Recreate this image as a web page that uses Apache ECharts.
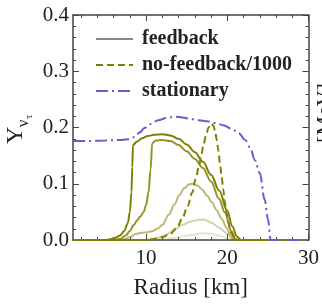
<!DOCTYPE html>
<html>
<head>
<meta charset="utf-8">
<script src="https://cdn.jsdelivr.net/npm/echarts@6/dist/echarts.min.js"></script>
<style>
html, body { margin: 0; padding: 0; background: #fff; }
#container { width: 322px; height: 304px; }
</style>
</head>
<body>
<div id="container"></div>
<script>
// tick values
const xMajorTicks = [10, 20, 30];
const xMinorTicks = [2, 4, 6, 8, 12, 14, 16, 18, 22, 24, 26, 28];

// feedback runs, darkest to lightest
const fb1R = [1, 5, 5.5, 6.2, 6.8, 7.3, 7.75, 8.0, 8.2, 8.3, 8.38, 8.9, 9.5, 10.2, 11, 12, 13, 14, 15, 16, 17, 18, 19, 20, 20.6, 21.2, 21.7, 29.8];
const fb1Y = [0, 0, 0.001, 0.004, 0.008, 0.016, 0.03, 0.05, 0.085, 0.13, 0.169, 0.175, 0.181, 0.185, 0.187, 0.188, 0.186, 0.18, 0.17, 0.156, 0.139, 0.116, 0.088, 0.052, 0.025, 0.006, 0, 0];

const fb2R = [1, 6, 6.8, 7.5, 8.0, 8.5, 8.9, 9.3, 9.7, 10.0, 10.3, 10.55, 10.75, 11.2, 12, 13, 14, 15, 16, 17, 18, 19, 19.7, 20.5, 21.0, 21.3, 29.8];
const fb2Y = [0, 0, 0.002, 0.008, 0.016, 0.027, 0.035, 0.042, 0.05, 0.062, 0.085, 0.125, 0.172, 0.177, 0.178, 0.176, 0.169, 0.158, 0.144, 0.128, 0.104, 0.073, 0.049, 0.016, 0.002, 0, 0];

const fb3R = [1, 7, 7.95, 8.8, 9.5, 10.2, 10.8, 11.5, 12.0, 12.8, 13.5, 14.1, 14.7, 15.3, 15.7, 16.3, 16.9, 17.5, 18.1, 18.7, 19.3, 19.9, 20.4, 20.8, 21.1, 29.8];
const fb3Y = [0, 0, 0.005, 0.011, 0.013, 0.014, 0.016, 0.021, 0.027, 0.045, 0.063, 0.08, 0.092, 0.099, 0.1, 0.097, 0.09, 0.079, 0.067, 0.053, 0.038, 0.022, 0.009, 0.002, 0, 0];

const fb4R = [1, 9.5, 10.5, 11.5, 12.5, 13.5, 14.5, 15.5, 16.5, 17.2, 18, 19, 20, 20.6, 21, 29.8];
const fb4Y = [0, 0, 0.001, 0.004, 0.01, 0.018, 0.027, 0.033, 0.036, 0.036, 0.031, 0.022, 0.011, 0.003, 0, 0];

const fb5R = [1, 11, 12, 13, 14, 15, 16, 17, 18, 19, 20, 20.7, 29.8];
const fb5Y = [0, 0, 0.001, 0.003, 0.005, 0.008, 0.01, 0.012, 0.011, 0.008, 0.003, 0, 0];

// no-feedback divided by 1000
const nofbR = [1, 10, 11, 12, 13, 13.8, 14.45, 15.1, 15.67, 16.1, 16.5, 16.8, 17.1, 17.4, 17.7, 18.0, 18.3, 18.5, 18.7, 18.9, 19.1, 19.3, 19.5, 19.7, 19.9, 20.1, 20.5, 20.96, 21.3, 29.8];
const nofbY = [0, 0, 0.002, 0.005, 0.011, 0.022, 0.038, 0.06, 0.084, 0.108, 0.13, 0.152, 0.171, 0.188, 0.2, 0.207, 0.203, 0.194, 0.178, 0.159, 0.136, 0.113, 0.09, 0.067, 0.048, 0.032, 0.012, 0.003, 0, 0];

// stationary
const statR = [1, 3, 5, 7, 7.9, 8.6, 9.2, 9.8, 10.5, 11.5, 12.5, 13.5, 14.5, 15.5, 16.5, 17.5, 18.5, 19.5, 20.5, 21.4, 22.2, 22.8, 23.4, 24.0, 24.6, 25.0, 25.35, 26, 29.8];
const statY = [0.176, 0.176, 0.177, 0.178, 0.179, 0.183, 0.191, 0.199, 0.206, 0.213, 0.217, 0.219, 0.218, 0.215, 0.213, 0.211, 0.208, 0.204, 0.198, 0.19, 0.178, 0.165, 0.142, 0.119, 0.072, 0.038, 0, 0, 0];

const zip = (r, y) => r.map((v, i) => [v, y[i]]);

const FONT = '"Liberation Serif", "DejaVu Serif", serif';
const axisColor = '#444';
const olive = (a) => 'rgba(128,128,0,' + a + ')';

const chart = echarts.init(document.getElementById('container'));

const solid = (name, r, y, color, z) => ({
    name,
    type: 'line',
    data: zip(r, y),
    symbol: 'none',
    smooth: 0.35,
    smoothMonotone: 'x',
    z,
    lineStyle: { color, width: 2 },
    itemStyle: { color },
});

const xBase = {
    type: 'value',
    min: 1,
    max: 30,
    splitLine: { show: false },
    axisLabel: { show: false },
};

chart.setOption({
    animation: false,
    grid: { left: 73, right: 11, top: 15, bottom: 59 },
    legend: {
        orient: 'vertical',
        left: 90,
        top: 24,
        itemWidth: 37,
        itemHeight: 14,
        itemGap: 6,
        selectedMode: false,
        itemStyle: { opacity: 0 },
        textStyle: {
            fontFamily: FONT,
            fontWeight: 'bold',
            fontSize: 20,
            color: '#222',
            lineHeight: 16,
            padding: [0, 0, 0, 4],
        },
        data: [
            { name: 'feedback', lineStyle: { color: '#888' } },
            { name: 'no-feedback/1000' },
            { name: 'stationary' },
        ],
    },
    xAxis: [
        Object.assign({}, xBase, {
            position: 'bottom',
            axisLine: { show: true, lineStyle: { color: axisColor, width: 1.5 } },
            axisTick: { show: true, inside: true, length: 6, customValues: xMajorTicks, lineStyle: { color: axisColor } },
            axisLabel: {
                show: true,
                customValues: xMajorTicks,
                margin: 8,
                fontFamily: FONT,
                fontSize: 21,
                color: '#222',
            },
            name: 'Radius [km]',
            nameLocation: 'middle',
            nameGap: 36,
            nameTextStyle: { fontFamily: FONT, fontSize: 23, color: '#222' },
        }),
        Object.assign({}, xBase, {
            position: 'bottom',
            axisLine: { show: false },
            axisTick: { show: true, inside: true, length: 3, customValues: xMinorTicks, lineStyle: { color: axisColor } },
        }),
        Object.assign({}, xBase, {
            position: 'top',
            axisLine: { show: true, lineStyle: { color: axisColor, width: 1.5 } },
            axisTick: { show: true, inside: true, length: 6, customValues: xMajorTicks, lineStyle: { color: axisColor } },
        }),
        Object.assign({}, xBase, {
            position: 'top',
            axisLine: { show: false },
            axisTick: { show: true, inside: true, length: 3, customValues: xMinorTicks, lineStyle: { color: axisColor } },
        }),
    ],
    yAxis: [
        {
            type: 'value',
            min: 0,
            max: 0.4,
            interval: 0.1,
            position: 'left',
            splitLine: { show: false },
            axisLine: { show: true, lineStyle: { color: axisColor, width: 1.5 } },
            axisTick: { show: true, inside: true, length: 6, lineStyle: { color: axisColor } },
            minorTick: { show: true, splitNumber: 5, length: 3, lineStyle: { color: axisColor } },
            axisLabel: {
                margin: 4,
                fontFamily: FONT,
                fontSize: 21,
                color: '#222',
                formatter: (v) => v.toFixed(1),
            },
        },
        {
            type: 'value',
            min: 0,
            max: 0.4,
            interval: 0.1,
            position: 'right',
            splitLine: { show: false },
            axisLine: { show: true, lineStyle: { color: axisColor, width: 1.5 } },
            axisTick: { show: true, inside: true, length: 6, lineStyle: { color: axisColor } },
            minorTick: { show: true, splitNumber: 5, length: 3, lineStyle: { color: axisColor } },
            axisLabel: { show: false },
        },
    ],
    series: [
        solid('feedback 5', fb5R, fb5Y, olive(0.2), 2),
        solid('feedback 4', fb4R, fb4Y, olive(0.35), 3),
        solid('feedback 3', fb3R, fb3Y, olive(0.55), 4),
        solid('feedback 2', fb2R, fb2Y, olive(0.85), 5),
        solid('feedback', fb1R, fb1Y, olive(1), 6),
        {
            name: 'no-feedback/1000',
            type: 'line',
            data: zip(nofbR, nofbY),
            symbol: 'none',
            smooth: 0.35,
            smoothMonotone: 'x',
            z: 7,
            lineStyle: { color: '#808000', width: 2, type: [7, 4] },
            itemStyle: { color: '#808000' },
        },
        {
            name: 'stationary',
            type: 'line',
            data: zip(statR, statY),
            symbol: 'none',
            smooth: 0.35,
            smoothMonotone: 'x',
            z: 8,
            lineStyle: { color: '#6a5acd', width: 2, type: [12, 4, 2, 4] },
            itemStyle: { color: '#6a5acd' },
        },
    ],
    graphic: [
        {
            type: 'group',
            x: 28,
            y: 144,
            rotation: Math.PI / 2,
            children: [
                { type: 'text', x: 0, y: 0, style: { text: 'Y', fontFamily: FONT, fontSize: 24, fill: '#222', verticalAlign: 'bottom' } },
                { type: 'text', x: 17, y: 4, style: { text: 'ν', fontFamily: FONT, fontSize: 16, fill: '#222', verticalAlign: 'bottom' } },
                { type: 'text', x: 25, y: 7, style: { text: 'τ', fontFamily: FONT, fontSize: 11, fill: '#222', verticalAlign: 'bottom' } },
            ],
        },
        {
            type: 'text',
            x: 325,
            y: 113,
            rotation: Math.PI / 2,
            style: { text: '[MeV]', fontFamily: FONT, fontSize: 22, fill: '#222', align: 'center', verticalAlign: 'middle' },
        },
    ],
});
</script>
</body>
</html>
